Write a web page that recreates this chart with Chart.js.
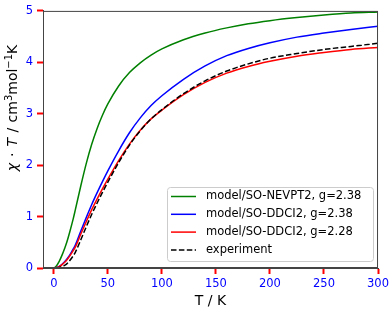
<!DOCTYPE html>
<html>
<head>
<meta charset="utf-8">
<script src="https://cdn.jsdelivr.net/npm/chart.js@4/dist/chart.umd.min.js"></script>
<style>
  html, body { margin: 0; padding: 0; background: #fff; }
  #wrap { width: 392px; height: 310px; }
</style>
</head>
<body>
<div id="wrap"><canvas id="c" width="392" height="310"></canvas></div>
<script>
// temperatures (K)
const tempModel = [0, 2, 5, 8, 10, 12, 15, 18, 20, 25, 30, 35, 40, 45, 50, 60, 70, 80, 90, 100, 120, 140, 160, 180, 200, 225, 250, 275, 300];
const tempExp = [2, 5, 8, 10, 12, 15, 18, 20, 25, 30, 35, 40, 45, 50, 60, 70, 80, 90, 100, 120, 140, 160, 180, 200, 225, 250, 275, 300];

// chi*T values (cm3 mol-1 K)
const nevpt2_238 = [0, 0.03, 0.13, 0.27, 0.38, 0.50, 0.72, 0.96, 1.14, 1.60, 2.03, 2.40, 2.71, 2.97, 3.19, 3.54, 3.80, 3.99, 4.14, 4.26, 4.44, 4.57, 4.67, 4.75, 4.81, 4.87, 4.92, 4.96, 4.98];
const ddci2_238 = [0, 0.005, 0.03, 0.08, 0.12, 0.17, 0.26, 0.37, 0.45, 0.72, 0.98, 1.23, 1.46, 1.68, 1.89, 2.28, 2.63, 2.92, 3.16, 3.35, 3.67, 3.93, 4.13, 4.27, 4.38, 4.49, 4.57, 4.64, 4.70];
const ddci2_228 = [0, 0.004, 0.025, 0.07, 0.11, 0.155, 0.24, 0.34, 0.41, 0.66, 0.90, 1.13, 1.34, 1.54, 1.73, 2.09, 2.41, 2.68, 2.90, 3.07, 3.37, 3.61, 3.79, 3.92, 4.02, 4.12, 4.19, 4.25, 4.29];
const experiment = [0, 0.01, 0.03, 0.05, 0.08, 0.15, 0.24, 0.31, 0.55, 0.80, 1.04, 1.26, 1.47, 1.67, 2.05, 2.39, 2.67, 2.90, 3.08, 3.39, 3.64, 3.83, 3.97, 4.08, 4.17, 4.25, 4.31, 4.37];

const seriesLabels = ['model/SO-NEVPT2, g=2.38', 'model/SO-DDCI2, g=2.38', 'model/SO-DDCI2, g=2.28', 'experiment'];
const xTicks = [0, 50, 100, 150, 200, 250, 300];
const yTicks = [0, 1, 2, 3, 4, 5];

const FONT = 'DejaVu Sans';

function pts(xs, ys) {
  return xs.map((x, i) => ({ x: x, y: ys[i] }));
}

// frame around plot + legend box + rotated y title with italic parts
const extras = {
  id: 'extras',
  afterDraw(chart) {
    const ctx = chart.ctx;
    const a = chart.chartArea;
    ctx.save();
    ctx.strokeStyle = '#444';
    ctx.lineWidth = 1;
    ctx.strokeRect(a.left + 0.5, a.top + 0.5, a.right - a.left - 1, a.bottom - a.top - 1);

    // legend
    const bx = 167, by = 187, bw = 206, bh = 74;
    ctx.beginPath();
    ctx.roundRect(bx + 0.5, by + 0.5, bw, bh, 3);
    ctx.fillStyle = 'rgba(255,255,255,0.8)';
    ctx.fill();
    ctx.strokeStyle = '#ccc';
    ctx.stroke();
    ctx.font = '11.5px ' + FONT;
    ctx.textBaseline = 'middle';
    ctx.textAlign = 'left';
    chart.data.datasets.forEach((ds, i) => {
      const y = 196.5 + i * 17.8;
      ctx.beginPath();
      ctx.strokeStyle = ds.borderColor;
      ctx.lineWidth = 1.5;
      ctx.setLineDash(ds.borderDash || []);
      ctx.moveTo(171, y);
      ctx.lineTo(196, y);
      ctx.stroke();
      ctx.setLineDash([]);
      ctx.fillStyle = '#000';
      ctx.fillText(ds.label, 206, y);
    });

    // y axis title (gap = extra space after the part, like mathtext spacing)
    const parts = [
      { t: '\u03c7', f: 'italic 14px ' + FONT, dy: 0, gap: 1.5 },
      { t: ' \u00b7 ', f: '14px ' + FONT, dy: 0, gap: 1.5 },
      { t: 'T', f: 'italic 14px ' + FONT, dy: 0, gap: 1 },
      { t: ' / ', f: '14px ' + FONT, dy: 0, gap: 1 },
      { t: 'cm', f: '14px ' + FONT, dy: 0, gap: 0 },
      { t: '3', f: '10px ' + FONT, dy: -5.5, gap: 0 },
      { t: 'mol', f: '14px ' + FONT, dy: 0, gap: 0 },
      { t: '\u22121', f: '10px ' + FONT, dy: -5.5, gap: 0 },
      { t: 'K', f: '14px ' + FONT, dy: 0, gap: 0 }
    ];
    let total = 0;
    parts.forEach(p => { ctx.font = p.f; p.w = ctx.measureText(p.t).width + p.gap; total += p.w; });
    ctx.translate(17, 108);
    ctx.rotate(-Math.PI / 2);
    ctx.fillStyle = '#000';
    ctx.textBaseline = 'alphabetic';
    let x = -total / 2;
    parts.forEach(p => {
      ctx.font = p.f;
      ctx.fillText(p.t, x, p.dy);
      x += p.w;
    });
    ctx.restore();
  }
};

const tickFont = { family: FONT, size: 11.5 };

new Chart(document.getElementById('c'), {
  type: 'line',
  data: {
    datasets: [
      { label: seriesLabels[0], data: pts(tempModel, nevpt2_238), borderColor: '#008000', order: 4 },
      { label: seriesLabels[1], data: pts(tempModel, ddci2_238), borderColor: '#0000ff', order: 3 },
      { label: seriesLabels[2], data: pts(tempModel, ddci2_228), borderColor: '#ff0000', order: 2 },
      { label: seriesLabels[3], data: pts(tempExp, experiment), borderColor: '#000000', borderDash: [5.5, 2.4], order: 1 }
    ]
  },
  options: {
    responsive: false,
    animation: false,
    devicePixelRatio: 1,
    layout: { padding: { left: 0, right: 13, top: 5, bottom: 0 } },
    elements: {
      point: { radius: 0 },
      line: { borderWidth: 1.5, fill: false, cubicInterpolationMode: 'monotone' }
    },
    plugins: {
      legend: { display: false },
      tooltip: { enabled: false }
    },
    scales: {
      x: {
        type: 'linear',
        min: -10,
        max: 300,
        afterBuildTicks: s => { s.ticks = xTicks.map(v => ({ value: v })); },
        afterFit: s => { s.height = 42; },
        grid: { drawOnChartArea: false, drawTicks: true, tickLength: 6, tickColor: '#ff0000', tickWidth: 2 },
        border: { display: true, color: '#444', width: 1 },
        ticks: { color: '#0000ff', font: tickFont, padding: 3, maxRotation: 0 },
        title: { display: true, text: 'T / K', color: '#000', font: { family: FONT, size: 14 }, padding: { top: 0, bottom: 0 } }
      },
      y: {
        type: 'linear',
        min: 0,
        max: 5,
        afterBuildTicks: s => { s.ticks = yTicks.map(v => ({ value: v })); },
        afterFit: s => { s.width = 43; },
        grid: { drawOnChartArea: false, drawTicks: true, tickLength: 6, tickColor: '#ff0000', tickWidth: 2 },
        border: { display: true, color: '#444', width: 1 },
        ticks: { color: '#0000ff', font: tickFont, padding: 4 }
      }
    }
  },
  plugins: [extras]
});
</script>
</body>
</html>
